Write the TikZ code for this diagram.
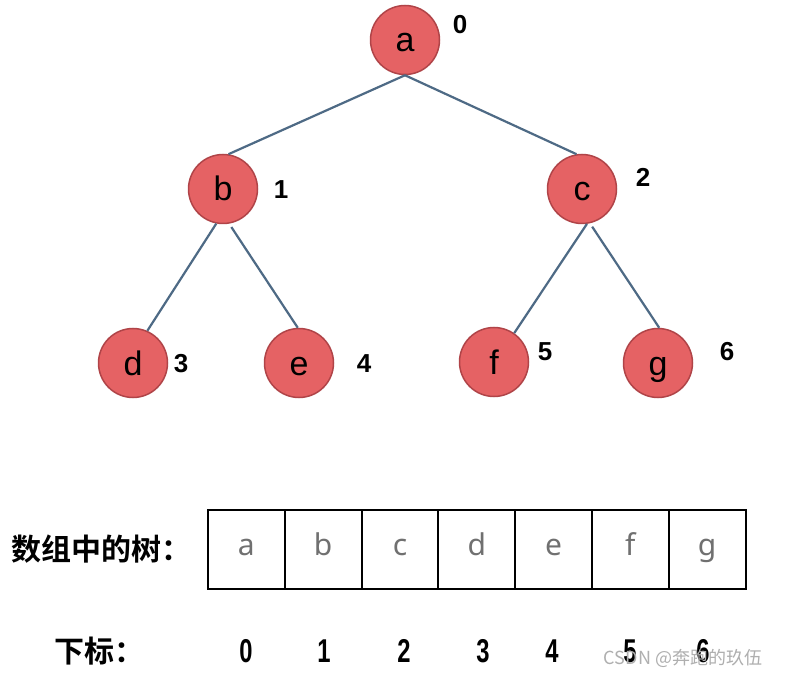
\documentclass[tikz,border=0pt]{standalone}
\usepackage{fontspec}
\setmainfont{Liberation Sans}
\newfontfamily\cjk{Noto Sans CJK SC}[BoldFont={Noto Sans CJK SC Bold}]
\newfontfamily\cellfont{Noto Sans}
\definecolor{nodered}{RGB}{229,98,100}
\definecolor{noderim}{RGB}{176,68,72}
\definecolor{edgeblue}{RGB}{78,106,133}
\definecolor{cellgray}{RGB}{112,112,112}
\definecolor{markgray}{RGB}{175,175,175}
\tikzset{
  treenode/.style={circle, draw=noderim, line width=1.5pt, fill=nodered,
    minimum size=69pt, inner sep=0pt, text height=24pt, text depth=0pt,
    font=\fontsize{34}{34}\selectfont},
  idx/.style={font=\fontsize{26}{26}\selectfont\bfseries},
  subidx/.style={font=\fontsize{33}{33}\selectfont\bfseries},
  treeline/.style={draw=edgeblue, line width=2.2pt},
  cell/.style={draw, line width=2pt, minimum width=76.8pt, minimum height=79pt,
    inner sep=0pt, text height=12pt, text depth=0pt, text=cellgray,
    font=\cellfont\fontsize{30}{30}\selectfont},
  cjklabel/.style={font=\cjk\bfseries\fontsize{30}{30}\selectfont},
}
\begin{document}
\begin{tikzpicture}[x=1pt, y=-1pt]
  \useasboundingbox (0,0) rectangle (790,676);
  \fill[white] (0,0) rectangle (790,676);

  %tree
  \node[treenode] (a) at (405,40) {a};
  \node[treenode] (b) at (223,189) {b};
  \node[treenode] (c) at (582,189) {c};
  \node[treenode] (d) at (133,363) {d};
  \node[treenode] (e) at (299,363) {e};
  \node[treenode] (f) at (494,362) {f};
  \node[treenode] (g) at (658,363) {g};

  \draw[treeline] (a.south) -- (b.81);
  \draw[treeline] (a.south) -- (c.99);
  \draw[treeline] (b.259) -- (d.66);
  \draw[treeline, shorten <=4pt] (b.280) -- (e.92);
  \draw[treeline] (c.278) -- (f.55);
  \draw[treeline, shorten <=4pt] (c.283) -- (g.88);

  %indices next to the nodes
  \node[idx] (n0) at (460,25) {0};
  \node[idx] (n1) at (281,190) {1};
  \node[idx] (n2) at (643,177) {2};
  \node[idx] (n3) at (181,364) {3};
  \node[idx] (n4) at (364,364) {4};
  \node[idx] (n5) at (545,352) {5};
  \node[idx] (n6) at (727,352) {6};

  %array
  \node[cjklabel] (arrlabel) at (102,549) {数组中的树：};
  \foreach \ch [count=\i from 0] in {a,b,c,d,e,f,g}
    \node[cell] (cell\i) at ({246.4+76.8*\i},549.5) {\ch};

  %subscripts
  \node[cjklabel] (sublabel) at (99,651) {下标：};
  \foreach \x [count=\i from 0] in {246,324,404,483,552,630,703}
    \node[subidx] (k\i) at (\x,651) {\scalebox{0.72}[1]{\i}};

  %watermark
  \node[text=markgray, font=\cjk\fontsize{18}{18}\selectfont] (mark) at (683,658) {CSDN @奔跑的玖伍};
\end{tikzpicture}
\end{document}
